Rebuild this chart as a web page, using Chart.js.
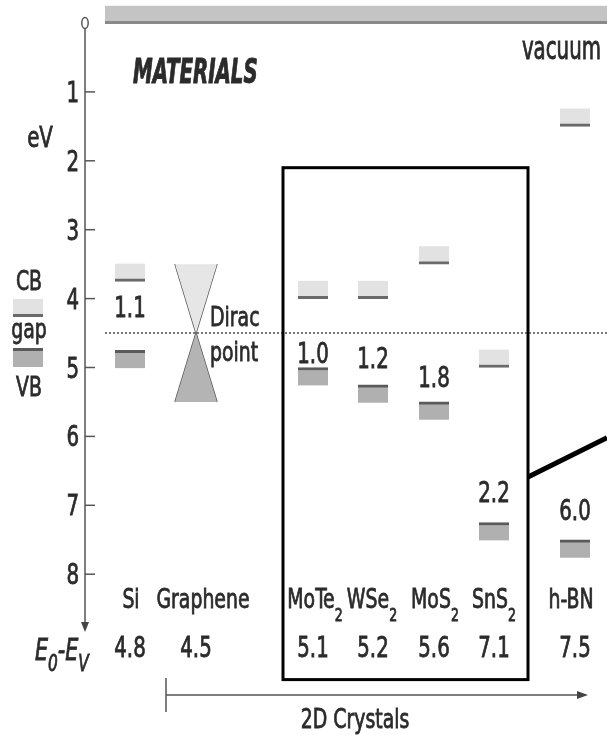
<!DOCTYPE html>
<html lang="en">
<head>
  <meta charset="UTF-8" />
  <title>Band alignment of 2D crystals</title>
  <script src="https://cdn.jsdelivr.net/npm/chart.js"></script>
  <style>
    body { margin: 0; background: #fff; }
    .wrap { position: relative; width: 607px; height: 735px; }
  </style>
</head>
<body>
  <div class="wrap"><canvas id="bands"></canvas></div>

  <script>
    // ---- data (energies in eV below vacuum) ----
    const materials = ['Si', 'Graphene', 'MoTe2', 'WSe2', 'MoS2', 'SnS2', 'h-BN'];
    const cbEdge   = [3.75, null, 4.0, 4.0, 3.5, 5.0, 1.5];
    const vbEdge   = [4.75, null, 5.0, 5.25, 5.5, 7.25, 7.5];
    const gapText  = ['1.1', null, '1.0', '1.2', '1.8', '2.2', '6.0'];
    const workText = ['4.8', '4.5', '5.1', '5.2', '5.6', '7.1', '7.5'];
    const diracPoint = 4.5;
    const coneTop = 3.5;
    const coneBottom = 5.5;
    const vacuumLevel = 0;
    const yTicks = [1, 2, 3, 4, 5, 6, 7, 8];

    // ---- layout (x in canvas px, label heights in eV) ----
    const colX  = [130, 196, 313, 373, 434, 494, 575];
    const nameX = [131, 203, 315, 372, 435, 494, 571];
    const gapLabelE = [4.27, null, 4.93, 5.01, 5.28, 6.95, 7.21];
    const BAND = 0.26;      // drawn thickness of a band block
    const CONE_HALF = 21;   // half width of the Dirac cone
    const AXIS_X = 85;

    const FONT = '"DejaVu Sans Condensed", "DejaVu Sans", sans-serif';
    const INK = '#2b2b2b';

    const cbData = [], vbData = [];
    materials.forEach((m, i) => {
      if (cbEdge[i] != null) cbData.push({ x: colX[i], y: [cbEdge[i] - BAND, cbEdge[i]] });
      if (vbEdge[i] != null) vbData.push({ x: colX[i], y: [vbEdge[i], vbEdge[i] + BAND] });
    });
    const gx = colX[1];
    const coneUp = [
      { x: gx - CONE_HALF, y: coneTop }, { x: gx + CONE_HALF, y: coneTop },
      { x: gx, y: diracPoint }, { x: gx - CONE_HALF, y: coneTop }
    ];
    const coneDown = [
      { x: gx, y: diracPoint }, { x: gx + CONE_HALF, y: coneBottom },
      { x: gx - CONE_HALF, y: coneBottom }, { x: gx, y: diracPoint }
    ];

    // text stretched vertically, a touch heavier than the plain face
    function sText(ctx, s, x, y, font, align, sy) {
      ctx.save();
      ctx.font = font;
      ctx.textAlign = align || 'left';
      ctx.textBaseline = 'alphabetic';
      ctx.fillStyle = INK;
      ctx.strokeStyle = INK;
      ctx.lineWidth = 0.6;
      ctx.translate(x, y);
      ctx.scale(1, sy || 1.3);
      ctx.fillText(s, 0, 0);
      ctx.strokeText(s, 0, 0);
      ctx.restore();
    }

    // text with subscripts: parts = [{t, sub}]
    function richText(ctx, parts, x, base, size, subSize, subDrop, align, style) {
      const st = style ? style + ' ' : '';
      let w = 0;
      parts.forEach(p => {
        ctx.font = st + (p.sub ? subSize : size) + 'px ' + FONT;
        p.w = ctx.measureText(p.t).width;
        w += p.w;
      });
      let cx = align === 'center' ? x - w / 2 : x;
      parts.forEach(p => {
        sText(ctx, p.t, cx, base + (p.sub ? subDrop : 0), st + (p.sub ? subSize : size) + 'px ' + FONT, 'left', 1.3);
        cx += p.w;
      });
    }

    const annotations = {
      id: 'annotations',
      beforeDatasetsDraw(chart) {
        const { ctx, scales: { x, y } } = chart;
        ctx.save();
        // vacuum level strip
        const v0 = y.getPixelForValue(vacuumLevel);
        const vTop = y.getPixelForValue(-0.25);
        ctx.fillStyle = '#c4c4c4';
        ctx.fillRect(x.getPixelForValue(105), vTop, 502, v0 - vTop);
        ctx.fillStyle = '#8a8a8a';
        ctx.fillRect(x.getPixelForValue(105), v0 - 2, 502, 3);
        ctx.restore();
      },
      afterDraw(chart) {
        const { ctx, scales: { x, y } } = chart;
        ctx.save();
        ctx.strokeStyle = '#555';

        // energy axis
        const ax = x.getPixelForValue(AXIS_X);
        const yTip = y.getPixelForValue(8.84);
        ctx.lineWidth = 1.5;
        ctx.beginPath();
        ctx.ellipse(ax, y.getPixelForValue(vacuumLevel), 3.2, 5.5, 0, 0, Math.PI * 2);
        ctx.stroke();
        ctx.beginPath();
        ctx.moveTo(ax, y.getPixelForValue(vacuumLevel) + 6);
        ctx.lineTo(ax, yTip - 6);
        ctx.stroke();
        ctx.fillStyle = '#444';
        ctx.beginPath();
        ctx.moveTo(ax, yTip);
        ctx.lineTo(ax - 4, yTip - 10);
        ctx.lineTo(ax + 4, yTip - 10);
        ctx.closePath();
        ctx.fill();
        yTicks.forEach(t => {
          const py = y.getPixelForValue(t);
          ctx.beginPath();
          ctx.moveTo(ax, py);
          ctx.lineTo(ax + 10, py);
          ctx.stroke();
          sText(ctx, String(t), ax - 6, py + 10, '22px ' + FONT, 'right', 1.3);
        });
        sText(ctx, 'eV', 40, 147, '22px ' + FONT, 'center', 1.3);

        // legend key on the left
        ctx.fillStyle = '#e2e2e2';
        ctx.fillRect(13, 299, 30, 18);
        ctx.fillStyle = '#6a6a6a';
        ctx.fillRect(13, 314, 30, 3);
        ctx.fillStyle = '#b0b0b0';
        ctx.fillRect(13, 348, 30, 19);
        ctx.fillStyle = '#5a5a5a';
        ctx.fillRect(13, 348, 30, 3);
        sText(ctx, 'CB', 29, 290, '21px ' + FONT, 'center', 1.3);
        sText(ctx, 'gap', 29, 338, '21px ' + FONT, 'center', 1.3);
        sText(ctx, 'VB', 29, 396, '21px ' + FONT, 'center', 1.3);

        // titles
        sText(ctx, 'MATERIALS', 133, 83, 'italic bold 22px ' + FONT, 'left', 1.5);
        sText(ctx, 'vacuum', 601, 59, '22px ' + FONT, 'right', 1.45);
        sText(ctx, 'Dirac', x.getPixelForValue(gx + 14), 326, '21px ' + FONT, 'left', 1.3);
        sText(ctx, 'point', x.getPixelForValue(gx + 14), 361, '21px ' + FONT, 'left', 1.3);

        // gap values
        materials.forEach((m, i) => {
          if (gapText[i] == null) return;
          sText(ctx, gapText[i], x.getPixelForValue(colX[i]), y.getPixelForValue(gapLabelE[i]), '22px ' + FONT, 'center', 1.3);
        });

        // material names and E0-EV values
        materials.forEach((m, i) => {
          const parts = m.split(/(\d)/).filter(Boolean).map(t => ({ t, sub: /^\d$/.test(t) }));
          richText(ctx, parts, x.getPixelForValue(nameX[i]), 608, 21, 14, 13, 'center');
          sText(ctx, workText[i], x.getPixelForValue(colX[i]), 657, '22px ' + FONT, 'center', 1.3);
        });
        richText(ctx, [{ t: 'E' }, { t: '0', sub: true }, { t: '-' }, { t: 'E' }, { t: 'V', sub: true }],
          35, 660, 23, 17, 11, 'left', 'italic');

        // 2D crystal box and pointer
        ctx.strokeStyle = '#000';
        ctx.lineWidth = 3;
        const bx0 = x.getPixelForValue(283), bx1 = x.getPixelForValue(528);
        const by0 = y.getPixelForValue(2.1), by1 = y.getPixelForValue(9.53);
        ctx.strokeRect(bx0, by0, bx1 - bx0, by1 - by0);
        ctx.lineWidth = 5;
        ctx.beginPath();
        ctx.moveTo(bx1, y.getPixelForValue(6.59));
        ctx.lineTo(x.getPixelForValue(607), y.getPixelForValue(6.02));
        ctx.stroke();

        // 2D crystals arrow
        ctx.strokeStyle = '#555';
        ctx.lineWidth = 1.5;
        ctx.beginPath();
        ctx.moveTo(166, 678); ctx.lineTo(166, 712);
        ctx.moveTo(166, 695); ctx.lineTo(580, 695);
        ctx.stroke();
        ctx.fillStyle = '#444';
        ctx.beginPath();
        ctx.moveTo(588, 695); ctx.lineTo(577, 691); ctx.lineTo(577, 699);
        ctx.closePath(); ctx.fill();
        sText(ctx, '2D Crystals', 355, 728, '21px ' + FONT, 'center', 1.3);
        ctx.restore();
      }
    };

    new Chart(document.getElementById('bands'), {
      type: 'bar',
      data: {
        datasets: [
          {
            label: 'Fermi / Dirac level', type: 'line',
            data: [{ x: 105, y: diracPoint }, { x: 607, y: diracPoint }],
            borderColor: '#7a7a7a', borderWidth: 2, borderDash: [2, 2],
            pointRadius: 0, fill: false
          },
          {
            label: 'CB', data: cbData, grouped: false, barThickness: 30,
            backgroundColor: '#e2e2e2', borderColor: '#6a6a6a',
            borderWidth: { top: 0, left: 0, right: 0, bottom: 3 }, borderSkipped: false
          },
          {
            label: 'VB', data: vbData, grouped: false, barThickness: 30,
            backgroundColor: '#b0b0b0', borderColor: '#5a5a5a',
            borderWidth: { top: 3, left: 0, right: 0, bottom: 0 }, borderSkipped: false
          },
          {
            label: 'cone up', type: 'line', data: coneUp,
            backgroundColor: '#e6e6e6', borderWidth: 0, pointRadius: 0, fill: 'shape', tension: 0
          },
          {
            label: 'cone down', type: 'line', data: coneDown,
            backgroundColor: '#b4b4b4', borderWidth: 0, pointRadius: 0, fill: 'shape', tension: 0
          },
          {
            label: 'cone edge 1', type: 'line',
            data: [{ x: gx - CONE_HALF, y: coneTop }, { x: gx + CONE_HALF, y: coneBottom }],
            borderColor: '#555', borderWidth: 1.5, pointRadius: 0, fill: false
          },
          {
            label: 'cone edge 2', type: 'line',
            data: [{ x: gx + CONE_HALF, y: coneTop }, { x: gx - CONE_HALF, y: coneBottom }],
            borderColor: '#555', borderWidth: 1.5, pointRadius: 0, fill: false
          }
        ]
      },
      options: {
        responsive: true,
        maintainAspectRatio: false,
        animation: false,
        layout: { padding: 0 },
        plugins: { legend: { display: false }, tooltip: { enabled: false } },
        scales: {
          x: { type: 'linear', min: 0, max: 607, offset: false, display: false },
          y: { type: 'linear', min: -0.334, max: 10.334, reverse: true, display: false }
        }
      },
      plugins: [annotations]
    });
  </script>
</body>
</html>
